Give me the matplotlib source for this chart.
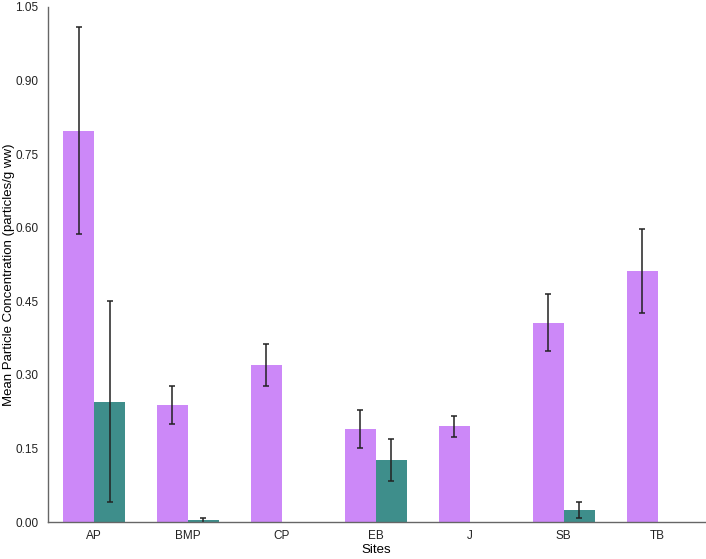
import numpy as np
import matplotlib
matplotlib.use("Agg")
import matplotlib.pyplot as plt

plt.rcParams['font.family'] = ['Liberation Sans', 'DejaVu Sans']

# data
sites = ['AP', 'BMP', 'CP', 'EB', 'J', 'SB', 'TB']
purple_vals = [0.798, 0.238, 0.321, 0.190, 0.195, 0.406, 0.512]
purple_err = [0.211, 0.039, 0.043, 0.039, 0.022, 0.058, 0.085]
teal_vals = [0.245, 0.004, 0.0, 0.126, 0.0, 0.025, 0.0]
teal_err = [0.205, 0.005, 0.0, 0.043, 0.0, 0.017, 0.0]
has_teal = [True, True, False, True, False, True, False]

PURPLE = '#cc88f8'
TEAL = '#3e8e8b'

fig = plt.figure(figsize=(7.06, 5.59), dpi=100)
ax = fig.add_axes([0.068, 0.066, 0.930, 0.9215])

x = np.arange(len(sites))
w = 0.33
ekw = dict(ecolor='#222222', elinewidth=1.1, capsize=2.5, capthick=1.1)

ax.bar(x - w / 2, purple_vals, w, color=PURPLE, yerr=purple_err,
       error_kw=ekw, zorder=2)

mask = np.array(has_teal)
ax.bar(x[mask] + w / 2, np.array(teal_vals)[mask], w, color=TEAL,
       yerr=np.array(teal_err)[mask], error_kw=ekw, zorder=2)

ax.set_xlim(-0.49, 6.5)
ax.set_ylim(0, 1.05)
yt = np.arange(0, 1.051, 0.15)
ax.set_yticks(yt)
ax.set_yticklabels([f'{v:.2f}' for v in yt])
ax.set_xticks(x)
ax.set_xticklabels(sites)

for s in ['top', 'right']:
    ax.spines[s].set_visible(False)
for s in ['left', 'bottom']:
    ax.spines[s].set_color('#666666')
    ax.spines[s].set_linewidth(1.0)

ax.tick_params(axis='both', length=0, labelsize=8.5, colors='#222222')
ax.tick_params(axis='y', pad=7)
ax.tick_params(axis='x', pad=6)

ax.set_xlabel('Sites', fontsize=9.5, labelpad=1)
ax.set_ylabel('Mean Particle Concentration (particles/g ww)', fontsize=9.5)
ax.yaxis.set_label_coords(-0.051, 0.48)

fig.savefig('out.png', dpi=100)
